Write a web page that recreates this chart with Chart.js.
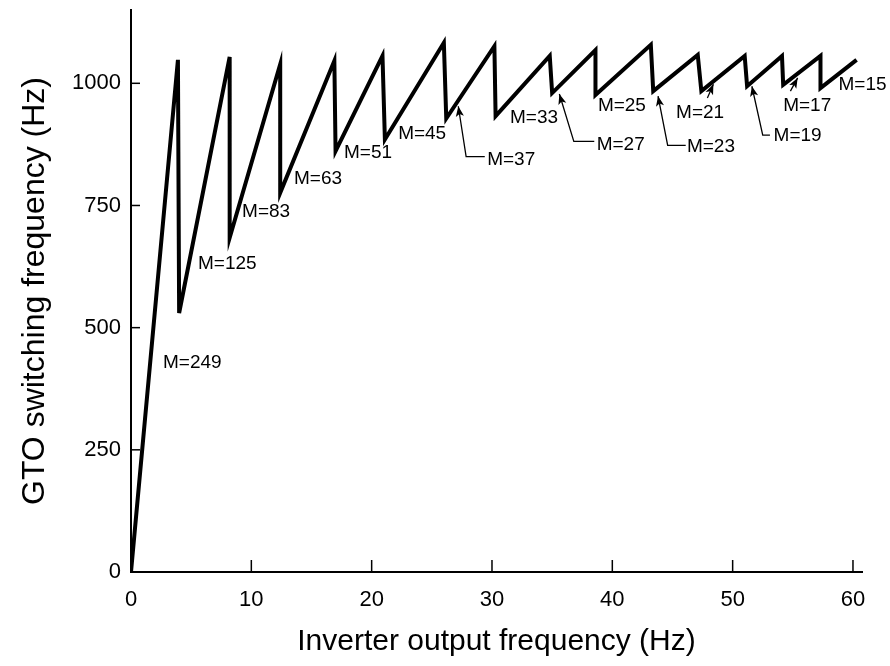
<!DOCTYPE html>
<html>
<head>
<meta charset="utf-8">
<script src="https://cdn.jsdelivr.net/npm/chart.js@4/dist/chart.umd.min.js"></script>
<style>
  html, body { margin: 0; padding: 0; background: #fff; }
  #grafico { display: block; }
</style>
</head>
<body>
<canvas id="grafico" width="890" height="666"></canvas>
<script>
// Dados (frequência de saída x frequência de chaveamento)
const freqSaida = [0, 3.9, 4.0, 8.2, 8.2, 12.4, 12.4, 16.9, 17.0, 20.9, 21.1, 26.0, 26.2, 30.2, 30.3,
                   34.8, 35.0, 38.6, 38.6, 43.2, 43.4, 47.1, 47.4, 51.0, 51.2, 54.1, 54.2, 57.3, 57.3, 60.3];
const freqGTO = [0, 1048, 530, 1054, 684, 1039, 776, 1046, 861, 1056, 885, 1083, 928, 1076, 933,
                 1056, 980, 1068, 976, 1079, 984, 1058, 984, 1056, 994, 1056, 997, 1056, 990, 1048];

const ticksX = [0, 10, 20, 30, 40, 50, 60];
const ticksY = [0, 250, 500, 750, 1000];

// Rótulos M=... (posição em unidades dos eixos)
const rotulosTexto = ['M=249', 'M=125', 'M=83', 'M=63', 'M=51', 'M=45', 'M=37', 'M=33',
                      'M=27', 'M=25', 'M=23', 'M=21', 'M=19', 'M=17', 'M=15'];
const rotulosX = [2.66, 5.57, 9.23, 13.55, 17.7, 22.2, 29.6, 31.5, 38.7, 38.8, 46.2, 45.3, 53.4, 54.2, 58.8];
const rotulosY = [429, 631, 737, 805, 857, 896, 844, 930, 875, 955, 871, 939, 892, 955, 996];

// Setas: lista de pontos [x, y]; o último ponto é a ponta da seta
const setas = [
    [[29.4, 850], [27.85, 850], [27.2, 953]],
    [[38.5, 881], [36.8, 881], [35.6, 978]],
    [[46.1, 873], [44.6, 873], [43.8, 974]],
    [[47.9, 970], [48.4, 998]],
    [[53.1, 894], [52.5, 894], [51.6, 994]],
    [[54.8, 984], [55.4, 1011]]
];

const fonte = "'Liberation Sans', Arial, sans-serif";

const pluginExtras = {
    id: 'extras',
    afterDraw(chart) {
        const ctx = chart.ctx;
        const sx = chart.scales.x;
        const sy = chart.scales.y;
        const area = chart.chartArea;
        ctx.save();
        ctx.strokeStyle = '#000';
        ctx.fillStyle = '#000';

        // marcas dos eixos voltadas para dentro
        ctx.lineWidth = 1.5;
        ticksX.forEach(v => {
            const px = sx.getPixelForValue(v);
            ctx.beginPath();
            ctx.moveTo(px, area.bottom);
            ctx.lineTo(px, area.bottom - 12);
            ctx.stroke();
        });
        ticksY.forEach(v => {
            const py = sy.getPixelForValue(v);
            ctx.beginPath();
            ctx.moveTo(area.left, py);
            ctx.lineTo(area.left + 9, py);
            ctx.stroke();
        });

        // textos
        ctx.font = '19px ' + fonte;
        ctx.textAlign = 'left';
        ctx.textBaseline = 'middle';
        rotulosTexto.forEach((t, i) => {
            ctx.fillText(t, sx.getPixelForValue(rotulosX[i]), sy.getPixelForValue(rotulosY[i]));
        });

        // setas
        ctx.lineWidth = 1.3;
        setas.forEach(pts => {
            const p = pts.map(([x, y]) => [sx.getPixelForValue(x), sy.getPixelForValue(y)]);
            ctx.beginPath();
            ctx.moveTo(p[0][0], p[0][1]);
            for (let k = 1; k < p.length; k++) ctx.lineTo(p[k][0], p[k][1]);
            ctx.stroke();
            const a = p[p.length - 2], b = p[p.length - 1];
            const ang = Math.atan2(b[1] - a[1], b[0] - a[0]);
            const len = 11, w = 0.38;
            ctx.beginPath();
            ctx.moveTo(b[0], b[1]);
            ctx.lineTo(b[0] - len * Math.cos(ang - w), b[1] - len * Math.sin(ang - w));
            ctx.lineTo(b[0] - len * 0.7 * Math.cos(ang), b[1] - len * 0.7 * Math.sin(ang));
            ctx.lineTo(b[0] - len * Math.cos(ang + w), b[1] - len * Math.sin(ang + w));
            ctx.closePath();
            ctx.fill();
        });
        ctx.restore();
    }
};

const ctx = document.getElementById('grafico').getContext('2d');
const chart = new Chart(ctx, {
    type: 'scatter',
    data: {
        datasets: [{
            label: 'GTO',
            data: freqSaida.map((x, i) => ({ x: x, y: freqGTO[i] })),
            showLine: true,
            borderColor: '#000',
            borderWidth: 4,
            pointRadius: 0,
            tension: 0,
            fill: false
        }]
    },
    options: {
        responsive: false,
        animation: false,
        layout: { padding: { top: 10, right: 28, left: 0, bottom: 0 } },
        plugins: {
            legend: { display: false },
            tooltip: { enabled: false }
        },
        scales: {
            x: {
                type: 'linear',
                min: 0,
                max: 60.75,
                afterBuildTicks: scale => { scale.ticks = ticksX.map(v => ({ value: v })); },
                afterFit: scale => {
                    scale.height = 94;
                    scale.paddingLeft = 0;
                    scale.paddingRight = 0;
                },
                grid: { display: false, drawTicks: false },
                border: { display: true, color: '#000', width: 2 },
                ticks: {
                    color: '#000', padding: 15, maxRotation: 0,
                    font: { family: fonte, size: 22 },
                    callback: v => String(v)
                },
                title: {
                    display: true,
                    text: 'Inverter output frequency (Hz)',
                    color: '#000',
                    font: { family: fonte, size: 30 },
                    padding: { top: 0, bottom: 6 }
                }
            },
            y: {
                type: 'linear',
                min: 0,
                max: 1150,
                afterBuildTicks: scale => { scale.ticks = ticksY.map(v => ({ value: v })); },
                afterFit: scale => {
                    scale.width = 131;
                    scale.paddingTop = 0;
                    scale.paddingBottom = 0;
                },
                grid: { display: false, drawTicks: false },
                border: { display: true, color: '#000', width: 2 },
                ticks: {
                    color: '#000', padding: 10,
                    font: { family: fonte, size: 22 },
                    callback: v => String(v)
                },
                title: {
                    display: true,
                    text: 'GTO switching frequency (Hz)',
                    color: '#000',
                    font: { family: fonte, size: 32 },
                    padding: { top: 16, bottom: 0 }
                }
            }
        }
    },
    plugins: [pluginExtras]
});
</script>
</body>
</html>
